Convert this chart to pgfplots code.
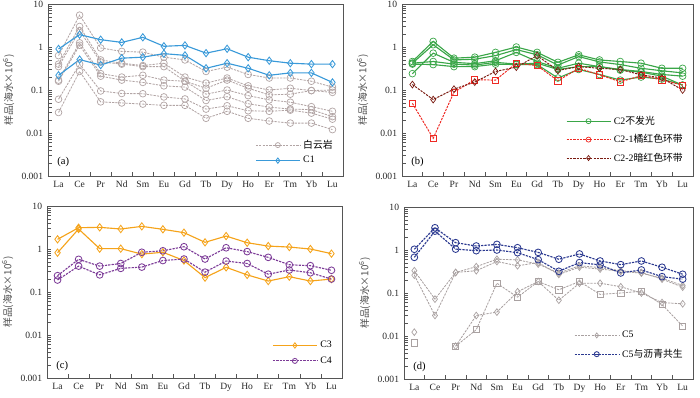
\documentclass[border=0pt]{standalone}
\usepackage{pgfplots}
\pgfplotsset{compat=1.18}
\usepackage{pgfplotstable}
\usepackage{fontspec}
\setmainfont{Liberation Serif}
\newfontfamily\cjk{Noto Sans CJK SC}

\definecolor{cDol}{HTML}{B2A5A5}
\definecolor{cCa}{HTML}{3A9AD9}
\definecolor{cCb}{HTML}{3AA648}
\definecolor{cCbr}{HTML}{EE2A24}
\definecolor{cCbd}{HTML}{7A1A10}
\definecolor{cCc}{HTML}{F5A31A}
\definecolor{cCd}{HTML}{7D3C98}
\definecolor{cCe}{HTML}{2B3990}
\definecolor{cCeg}{HTML}{A9A1A1}
\definecolor{cAx}{HTML}{555555}

% panel (a): dolomite d1..d7, C1 c1a c1b
\pgfplotstableread{
x d1 d2 d3 d4 d5 d6 d7 c1a c1b
0 0.63 0.40 0.35 0.17 0.16 0.061 0.030 0.90 0.22
1 5.5 3.0 2.4 1.25 1.1 0.40 0.27 1.94 0.51
2 0.95 0.50 0.45 0.24 0.21 0.095 0.053 1.48 0.38
3 0.79 0.42 0.40 0.20 0.17 0.083 0.050 1.28 0.55
4 0.76 0.37 0.35 0.22 0.15 0.082 0.047 1.68 0.58
5 0.58 0.42 0.35 0.17 0.125 0.069 0.044 1.04 0.70
6 0.50 0.20 0.16 0.16 0.117 0.062 0.044 1.09 0.64
7 0.27 0.145 0.11 0.08 0.057 0.036 0.022 0.72 0.32
8 0.34 0.19 0.17 0.10 0.07 0.043 0.032 0.91 0.42
9 0.23 0.125 0.11 0.074 0.048 0.033 0.022 0.58 0.32
10 0.19 0.10 0.077 0.059 0.04 0.032 0.019 0.48 0.22
11 0.19 0.11 0.08 0.052 0.036 0.034 0.017 0.42 0.25
12 0.16 0.097 0.097 0.041 0.035 0.029 0.017 0.40 0.25
13 0.117 0.10 0.088 0.032 0.024 0.021 0.012 0.40 0.15
}\tabA

% panel (b): C2 green g1..g5, C2-1 r1, C2-2 r2
\pgfplotstableread{
x g1 g2 g3 g4 g5 r1 r2
0 0.46 0.42 0.24 0.42 0.40 0.049 0.134
1 1.35 1.13 0.72 0.46 0.39 0.0075 0.060
2 0.55 0.50 0.44 0.40 0.35 0.089 0.105
3 0.58 0.52 0.41 0.38 0.35 0.173 0.153
4 0.75 0.63 0.48 0.44 0.40 0.170 0.27
5 1.00 0.87 0.75 0.40 0.39 0.42 0.34
6 0.75 0.66 0.46 0.42 0.39 0.37 0.63
7 0.44 0.38 0.32 0.30 0.19 0.164 0.285
8 0.66 0.60 0.42 0.35 0.30 0.32 0.35
9 0.50 0.45 0.35 0.35 0.23 0.226 0.32
10 0.46 0.39 0.30 0.29 0.17 0.155 0.30
11 0.42 0.32 0.27 0.26 0.20 0.215 0.226
12 0.32 0.28 0.23 0.21 0.18 0.173 0.19
13 0.32 0.25 0.21 0.13 0.13 0.13 0.10
}\tabB

% panel (c): C3 a/b, C4 a/b
\pgfplotstableread{
x c3a c3b c4a c4b
0 1.68 0.82 0.24 0.19
1 3.13 2.92 0.575 0.40
2 3.19 1.02 0.40 0.25
3 2.92 1.02 0.46 0.355
4 3.36 0.76 0.84 0.38
5 2.87 0.84 0.91 0.54
6 2.40 0.54 1.13 0.585
7 1.43 0.216 0.585 0.29
8 2.00 0.375 1.07 0.525
9 1.40 0.25 0.87 0.46
10 1.17 0.18 0.64 0.26
11 1.11 0.227 0.43 0.325
12 1.00 0.18 0.41 0.28
13 0.78 0.20 0.32 0.20
}\tabC

% panel (d): with bitumen b1 b2, C5 grey diamonds e1 e2 e3, squares s1
\pgfplotstableread{
x b1 b2 e1 e2 e3 s1
0 1.04 0.676 0.33 0.26 0.0123 0.0069
1 3.29 2.75 0.072 0.030 nan nan
2 1.48 1.05 0.30 0.30 0.0058 0.0058
3 1.24 0.965 0.41 0.33 0.030 0.014
4 1.35 1.00 0.61 0.54 0.036 0.169
5 1.13 0.867 0.59 0.43 0.107 0.080
6 0.88 0.597 0.47 0.51 0.185 0.185
7 0.61 0.32 0.29 0.27 0.068 0.119
8 0.81 0.51 0.43 0.40 0.169 0.185
9 0.556 0.45 0.39 0.36 0.169 0.093
10 0.457 0.293 0.33 0.32 0.14 0.10
11 0.556 0.344 0.30 0.29 0.10 0.11
12 0.397 0.24 0.21 0.22 0.06 0.054
13 0.273 0.21 0.137 0.15 0.056 0.017
}\tabD

\pgfplotsset{
  legend image code/.code={
    \draw[mark repeat=2,mark phase=2,#1]
      plot coordinates {(0mm,0mm) (5.5mm,0mm) (11mm,0mm)};},
}
\pgfplotsset{
  ree/.style={
    scale only axis, width=73.75mm, height=43mm,
    ymin=0.001, ymax=10,
    xmin=-0.5, xmax=13.5,
    xtick={0,...,13},
    xticklabels={La,Ce,Pr,Nd,Sm,Eu,Gd,Tb,Dy,Ho,Er,Tm,Yb,Lu},
    major x tick style={draw=none},
    minor xtick={0.5,1.5,...,12.5},
    ytick={0.001,0.01,0.1,1,10},
    yticklabels={0.001,0.01,0.1,1,10},
    tick align=inside, tick pos=left,
    major tick length=3pt, minor tick length=3pt,
    axis line style={draw=cAx, line width=0.6pt},
    tick style={cAx, line width=0.5pt},
    ticklabel style={font=\fontsize{6.8}{7}\selectfont, text=black!85},
    ylabel={\cjk 样品(海水×10\textsuperscript{6})},
    ylabel style={font=\fontsize{7}{8}\selectfont, text=black!70, yshift=-0.6mm},
    legend cell align=left,
    legend style={draw=none, fill=none, font=\fontsize{7}{8}\selectfont,
      anchor=south east},
    unbounded coords=jump,
  },
}
\tikzset{
  dol/.style={color=cDol, line width=0.6pt, dash pattern=on 1.6pt off 0.8pt,
    mark=o, mark size=2.4pt, mark options={solid, line width=0.5pt}},
  cone/.style={color=cCa, line width=0.8pt, mark=diamond, mark size=2.6pt,
    mark options={solid, line width=0.6pt}},
  ctwo/.style={color=cCb, line width=0.8pt, mark=o, mark size=2.4pt,
    mark options={solid, line width=0.5pt}},
  ctwoa/.style={color=cCbr, line width=0.7pt, dash pattern=on 1.6pt off 0.8pt,
    mark=square, mark size=2.2pt, mark options={solid, line width=0.5pt}},
  ctwob/.style={color=cCbd, line width=0.7pt, dash pattern=on 1.6pt off 0.8pt,
    mark=diamond, mark size=2.4pt, mark options={solid, line width=0.5pt}},
  cthree/.style={color=cCc, line width=0.8pt, mark=diamond, mark size=2.6pt,
    mark options={solid, line width=0.6pt}},
  cfour/.style={color=cCd, line width=0.8pt, dash pattern=on 1.6pt off 0.8pt,
    mark=o, mark size=2.4pt, mark options={solid, line width=0.6pt}},
  cfive/.style={color=cCe, line width=0.8pt, dash pattern=on 1.6pt off 0.8pt,
    mark=o, mark size=2.4pt, mark options={solid, line width=0.6pt}},
  cfiveg/.style={color=cCeg, line width=0.6pt, dash pattern=on 1.6pt off 0.8pt,
    mark=diamond, mark size=2.4pt, mark options={solid, line width=0.5pt}},
  cfives/.style={color=cCeg, line width=0.6pt, dash pattern=on 1.6pt off 0.8pt,
    mark=square, mark size=2.2pt, mark options={solid, line width=0.5pt}},
}

\begin{document}
\begin{tikzpicture}
\useasboundingbox (0,0) rectangle (175mm,-99.25mm);

% ---- (a)
\begin{semilogyaxis}[ree, at={(12mm,-1mm)}, anchor=north west,
  legend style={at={(0.99,0.03)}, row sep=0.1mm}]
  \addplot[dol, forget plot] table[x=x, y=d1] {\tabA};
  \addplot[dol, forget plot] table[x=x, y=d2] {\tabA};
  \addplot[dol, forget plot] table[x=x, y=d3] {\tabA};
  \addplot[dol, forget plot] table[x=x, y=d4] {\tabA};
  \addplot[dol, forget plot] table[x=x, y=d5] {\tabA};
  \addplot[dol, forget plot] table[x=x, y=d6] {\tabA};
  \addplot[dol, forget plot] table[x=x, y=d7] {\tabA};
  \addplot[cone, forget plot] table[x=x, y=c1a] {\tabA};
  \addplot[cone, forget plot] table[x=x, y=c1b] {\tabA};
  \addlegendimage{dol, mark size=1.8pt}
  \addlegendentry{\cjk 白云岩}
  \addlegendimage{cone, mark size=1.9pt}
  \addlegendentry{C1}
  \node[anchor=west, font=\fontsize{7.5}{8}\selectfont] at (rel axis cs:0.015,0.08) {(a)};
\end{semilogyaxis}

% ---- (b)
\begin{semilogyaxis}[ree, at={(100.5mm,-1mm)}, anchor=north west, width=72.75mm,
  legend style={at={(0.99,0.04)}, row sep=0.6mm}]
  \addplot[ctwo, forget plot] table[x=x, y=g1] {\tabB};
  \addplot[ctwo, forget plot] table[x=x, y=g2] {\tabB};
  \addplot[ctwo, forget plot] table[x=x, y=g3] {\tabB};
  \addplot[ctwo, forget plot] table[x=x, y=g4] {\tabB};
  \addplot[ctwo, forget plot] table[x=x, y=g5] {\tabB};
  \addplot[ctwoa, forget plot] table[x=x, y=r1] {\tabB};
  \addplot[ctwob, forget plot] table[x=x, y=r2] {\tabB};
  \addlegendimage{ctwo, mark size=1.8pt}
  \addlegendentry{C2{\cjk 不发光}}
  \addlegendimage{ctwoa, mark=o, mark size=1.8pt}
  \addlegendentry{C2-1{\cjk 橘红色环带}}
  \addlegendimage{ctwob, mark size=1.8pt}
  \addlegendentry{C2-2{\cjk 暗红色环带}}
  \node[anchor=west, font=\fontsize{7.5}{8}\selectfont] at (rel axis cs:0.015,0.08) {(b)};
\end{semilogyaxis}

% ---- (c)
\begin{semilogyaxis}[ree, at={(11.75mm,-51.5mm)}, anchor=north west,
  legend style={at={(0.99,0.04)}, row sep=0.3mm}]
  \addplot[cthree, forget plot] table[x=x, y=c3a] {\tabC};
  \addplot[cthree, forget plot] table[x=x, y=c3b] {\tabC};
  \addplot[cfour, forget plot] table[x=x, y=c4a] {\tabC};
  \addplot[cfour, forget plot] table[x=x, y=c4b] {\tabC};
  \addlegendimage{cthree, mark size=1.9pt}
  \addlegendentry{C3}
  \addlegendimage{cfour, mark size=1.8pt}
  \addlegendentry{C4}
  \node[anchor=west, font=\fontsize{7.5}{8}\selectfont] at (rel axis cs:0.015,0.07) {(c)};
\end{semilogyaxis}

% ---- (d)
\begin{semilogyaxis}[ree, at={(101mm,-51.75mm)}, anchor=north west, width=72.25mm,
  legend style={at={(0.99,0.08)}, row sep=0.9mm}]
  \addplot[cfiveg, forget plot] table[x=x, y=e1] {\tabD};
  \addplot[cfiveg, forget plot] table[x=x, y=e2] {\tabD};
  \addplot[cfiveg, forget plot] table[x=x, y=e3] {\tabD};
  \addplot[cfives, forget plot] table[x=x, y=s1] {\tabD};
  \addplot[cfive, forget plot] table[x=x, y=b1] {\tabD};
  \addplot[cfive, forget plot] table[x=x, y=b2] {\tabD};
  \addlegendimage{cfiveg, mark size=1.8pt}
  \addlegendentry{C5}
  \addlegendimage{cfive, mark size=1.8pt}
  \addlegendentry{C5{\cjk 与沥青共生}}
  \node[anchor=west, font=\fontsize{7.5}{8}\selectfont] at (rel axis cs:0.015,0.07) {(d)};
\end{semilogyaxis}
\end{tikzpicture}
\end{document}
